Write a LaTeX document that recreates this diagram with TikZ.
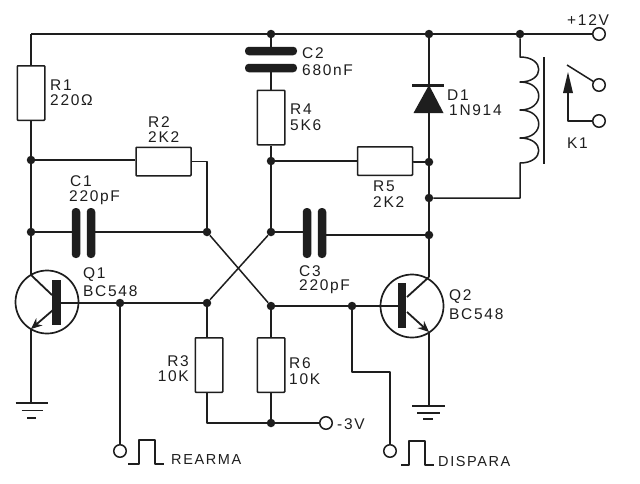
\documentclass[tikz,border=0pt]{standalone}
\usepackage{fontspec}
\setmainfont[LetterSpace=11]{Liberation Sans}
\usetikzlibrary{arrows.meta}
\definecolor{ink}{HTML}{1E1E1E}
\tikzset{
  wire/.style={line width=1.5pt,color=ink,line join=round},
  dot/.style={circle,fill=ink,inner sep=0pt,minimum size=8.5pt},
  term/.style={circle,draw=ink,line width=1.5pt,fill=white,inner sep=0pt,minimum size=12.5pt},
  res/.style={rectangle,draw=ink,line width=1.5pt,rounded corners=0.8pt,fill=white,inner sep=0pt},
  vres/.style={res,minimum width=27.5pt,minimum height=54.5pt},
  hres/.style={res,minimum width=55pt,minimum height=28.5pt},
  vplate/.style={rectangle,fill=ink,rounded corners=3.8pt,inner sep=0pt,minimum width=8.5pt,minimum height=50pt},
  hplate/.style={rectangle,fill=ink,rounded corners=3.8pt,inner sep=0pt,minimum width=52pt,minimum height=8.5pt},
  qbody/.style={circle,draw=ink,line width=1.7pt,inner sep=0pt,minimum size=63pt},
  qbase/.style={rectangle,fill=ink,inner sep=0pt,minimum width=8.5pt,minimum height=45pt},
  lab/.style={anchor=west,inner sep=0pt,text=ink,font=\fontsize{15.5}{16}\selectfont},
  labs/.style={lab,font=\fontsize{14.5}{15}\selectfont},
  labr/.style={lab,anchor=east},
  tip/.style={-{Stealth[length=11pt,width=9.5pt]}}
}
\begin{document}
\begin{tikzpicture}[x=1pt,y=-1pt]
\useasboundingbox (0,0) rectangle (640,483);
\fill[white] (0,0) rectangle (640,483);
% junctions
\coordinate (railL) at (31,34);
\node[dot] (t1) at (271,34) {};
\node[dot] (t2) at (429,34) {};
\node[dot] (t3) at (520,34) {};
\node[term] (vcc) at (599,34) {};
\node[dot] (j1) at (31,160) {};
\node[dot] (j2) at (31,232) {};
\node[dot] (x1) at (207,232) {};
\node[dot] (x2) at (271,232) {};
\node[dot] (x3) at (207,303) {};
\node[dot] (x4) at (271,306) {};
\node[dot] (j3) at (271,161) {};
\node[dot] (j4) at (429,162) {};
\node[dot] (j5) at (429,198) {};
\node[dot] (j6) at (429,235) {};
\node[dot] (b1) at (120,303) {};
\node[dot] (b2) at (352,306) {};
\node[dot] (j7) at (271,423) {};
\node[term] (vee) at (326,423) {};
\node[term] (trig1) at (120,451) {};
\node[term] (trig2) at (390,451) {};
% resistors
\node[vres] (R1) at (31,93) {};
\node[hres] (R2) at (163.5,161.5) {};
\node[vres] (R3) at (209,365) {};
\node[vres] (R4) at (271,117.5) {};
\node[hres] (R5) at (385,161) {};
\node[vres] (R6) at (271,365) {};
% capacitors
\node[vplate] (C1a) at (76,233) {};
\node[vplate] (C1b) at (91,233) {};
\node[hplate] (C2a) at (271,51) {};
\node[hplate] (C2b) at (271,68) {};
\node[vplate] (C3a) at (307,233) {};
\node[vplate] (C3b) at (322,233) {};
% transistors
\node[qbody] (Q1) at (47,302) {};
\node[qbase] (Q1b) at (56.5,302) {};
\node[qbody] (Q2) at (412,306) {};
\node[qbase] (Q2b) at (402,305) {};
\coordinate (Q1c) at (31,275);
\coordinate (Q1e) at (31,329);
\coordinate (Q2c) at (429,277);
\coordinate (Q2e) at (429,332);
% grounds
\coordinate (g1) at (31,403);
\coordinate (g2) at (429,406);
% wires
\draw[wire] (railL) -- (t1) -- (t2) -- (t3) -- (vcc);
\draw[wire] (railL) -- (R1.north);
\draw[wire] (R1.south) -- (j1) -- (j2) -- (Q1c);
\draw[wire] (j1) -- (j1 -| R2.west);
\draw[wire] (R2.east) -| (x1);
\draw[wire] (j2) -- (j2 -| C1a);
\draw[wire] (x1 -| C1b) -- (x1);
\draw[wire] (x2) -- (x2 -| C3a);
\draw[wire] (j6 -| C3b) -- (j6);
\draw[wire] (t1) -- (C2a);
\draw[wire] (C2b) -- (R4.north);
\draw[wire] (R4.south) -- (j3) -- (x2);
\draw[wire] (j3) -- (R5.west);
\draw[wire] (R5.east) -- (j4 -| R5.east) -- (j4);
\draw[wire] (x1) -- (x4);
\draw[wire] (x2) -- (x3);
\draw[wire] (b1 -| Q1b) -- (b1) -- (x3);
\draw[wire] (x4) -- (b2) -- (b2 -| Q2b);
\draw[wire] (x3) -- (x3 |- R3.north);
\draw[wire] (x4) -- (R6.north);
\draw[wire] (x3 |- R3.south) |- (j7);
\draw[wire] (R6.south) -- (j7);
\draw[wire] (j7) -- (vee);
\draw[wire] (b1) -- (trig1);
\draw[wire] (b2) -- (352,372) -| (trig2);
\draw[wire] (Q1e) -- (g1);
\draw[wire] (Q2e) -- (g2);
\draw[wire] (j6) -- (Q2c);
\draw[wire] (j5) -- (j6);
\draw[wire] (j4) -- (j5);
\draw[wire] (t2) -- (j4);
% transistor internals
\draw[wire,line width=1.8pt] (Q1c) -- (52,295);
\draw[wire,line width=1.8pt,tip] (53,310) -- (Q1e);
\draw[wire,line width=1.8pt] (Q2c) -- (407,297);
\draw[wire,line width=1.8pt,tip] (407,312) -- (Q2e);
% grounds
\draw[wire] (15.5,403) -- (47.5,403) (21.5,410.5) -- (42.5,410.5) (27,418) -- (36,418);
\draw[wire] (412,406) -- (445,406) (417,413) -- (440,413) (423,419) -- (433,419);
% diode
\fill[ink] (429,85) -- (443.5,113) -- (413.5,113) -- cycle;
\draw[wire,line width=3pt] (412,85) -- (444,85);
% relay
\draw[wire] (t3) -- (520,57) .. controls (545,57) and (545,82) .. (520,82)
  .. controls (545,82) and (545,110) .. (520,110)
  .. controls (545,110) and (545,138) .. (520,138)
  .. controls (545,138) and (545,163) .. (520,163)
  -- (520,198) -- (j5);
\draw[wire] (544,57) -- (544,164);
\node[term] (k1a) at (599,85) {};
\node[term] (k1b) at (599,121) {};
\draw[wire] (567,65) -- (k1a);
\draw[wire] (k1b) -- (568,121) -- (568,92);
\fill[ink] (568,72) -- (573,93) -- (563,93) -- cycle;
% pulses
\draw[wire,line width=1.2pt] (128,464) -- (139,464) -- (139,440) -- (155,440) -- (155,464) -- (164,464);
\draw[wire,line width=1.2pt] (401,465) -- (409,465) -- (409,441) -- (425,441) -- (425,465) -- (434,465);
% labels
\node[lab] (lR1) at (50,85) {R1};
\node[lab] (vR1) at (50,100) {220Ω};
\node[lab] (lR2) at (148,122) {R2};
\node[lab] (vR2) at (148,137) {2K2};
\node[lab] (lC1) at (70,181) {C1};
\node[lab] (vC1) at (69,198) {220pF};
\node[lab] (lC2) at (302,53) {C2};
\node[lab] (vC2) at (302,70) {680nF};
\node[lab] (lR4) at (290,109) {R4};
\node[lab] (vR4) at (290,125) {5K6};
\node[lab] (lR5) at (373,186) {R5};
\node[lab] (vR5) at (373,202) {2K2};
\node[lab] (lC3) at (299,271) {C3};
\node[lab] (vC3) at (299,287) {220pF};
\node[lab] (lQ1) at (83,275) {Q1};
\node[lab] (vQ1) at (83,291) {BC548};
\node[lab] (lQ2) at (449,297) {Q2};
\node[lab] (vQ2) at (449,314) {BC548};
\node[labr] (lR3) at (189,361) {R3};
\node[labr] (vR3) at (189,376) {10K};
\node[lab] (lR6) at (289,363) {R6};
\node[lab] (vR6) at (289,379) {10K};
\node[lab] (lD1) at (447,95) {D1};
\node[lab] (vD1) at (449,110) {1N914};
\node[lab] (lK1) at (567,143) {K1};
\node[lab] (lV) at (567,20) {+12V};
\node[lab] (lE) at (337,424) {-3V};
\node[labs] (lRe) at (171,460) {REARMA};
\node[labs] (lDi) at (438,461) {DISPARA};
\end{tikzpicture}
\end{document}
